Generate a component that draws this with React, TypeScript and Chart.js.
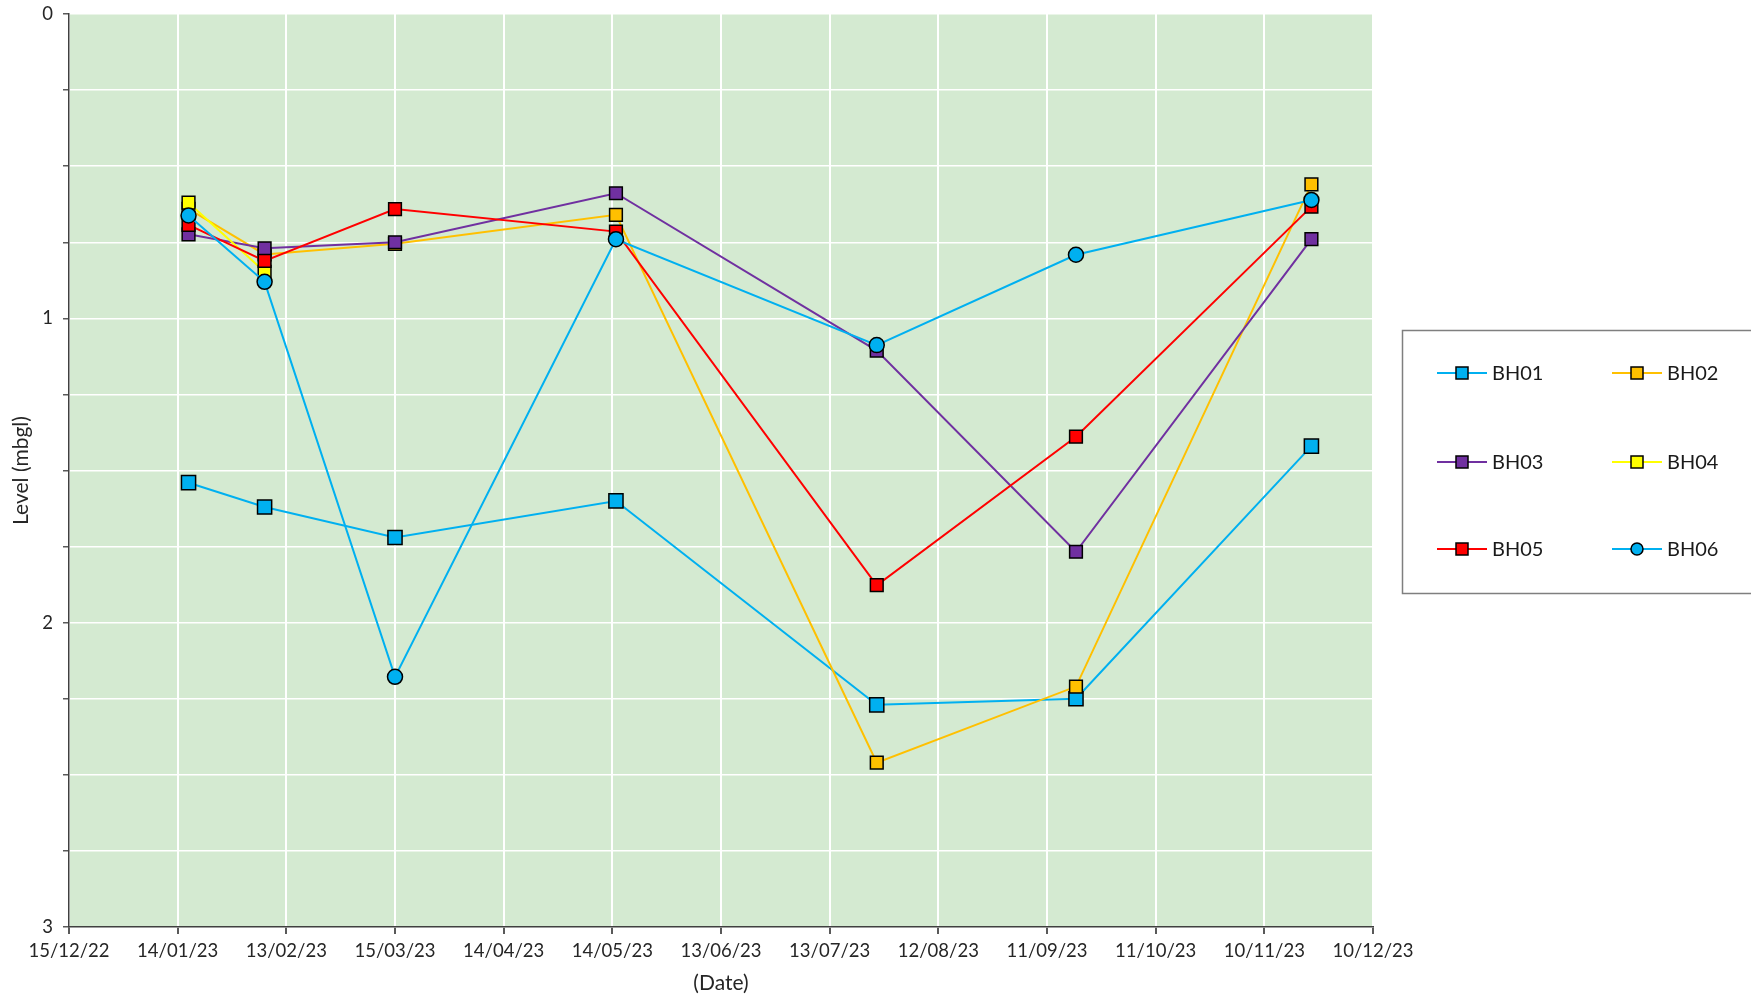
import React, { useEffect, useRef } from "react";
import { Chart, registerables } from "chart.js";

Chart.register(...registerables);

const START_DATE = "2022-12-15";
const sampleDates = ["2023-01-17", "2023-02-07", "2023-03-15", "2023-05-15", "2023-07-26", "2023-09-19", "2023-11-23"];
const seriesNames = ["BH01", "BH02", "BH03", "BH04", "BH05", "BH06"];
const bh01 = [1.54, 1.62, 1.72, 1.60, 2.27, 2.25, 1.42];
const bh02 = [0.64, 0.79, 0.755, 0.66, 2.46, 2.21, 0.56];
const bh03 = [0.724, 0.77, 0.75, 0.589, 1.106, 1.767, 0.74];
const bh04 = [0.62, 0.847, null, null, null, null, null];
const bh05 = [0.693, 0.811, 0.641, 0.715, 1.877, 1.389, 0.633];
const bh06 = [0.662, 0.88, 2.178, 0.74, 1.088, 0.791, 0.611];
const seriesValues = [bh01, bh02, bh03, bh04, bh05, bh06];
const seriesColors = ["#00B0F0", "#FFC000", "#7030A0", "#FFFF00", "#FF0000", "#00B0F0"];
const seriesMarkers = ["rect", "rect", "rect", "rect", "rect", "circle"];
const markerRadius = [10, 9, 9, 9, 9, 7.5];
const yTickLabels = [0, 1, 2, 3];

const DAY = 86400000;
const toDay = (s: string) => {
  const [y, m, d] = s.split("-").map(Number);
  const [y0, m0, d0] = START_DATE.split("-").map(Number);
  return Math.round((Date.UTC(y, m - 1, d) - Date.UTC(y0, m0 - 1, d0)) / DAY);
};
const fmtDay = (v: number) => {
  const [y0, m0, d0] = START_DATE.split("-").map(Number);
  const dt = new Date(Date.UTC(y0, m0 - 1, d0) + v * DAY);
  const dd = String(dt.getUTCDate()).padStart(2, "0");
  const mm = String(dt.getUTCMonth() + 1).padStart(2, "0");
  const yy = String(dt.getUTCFullYear() % 100).padStart(2, "0");
  return `${dd}/${mm}/${yy}`;
};

const FONT = "Lato, 'Noto Sans', sans-serif";

const legendPlugin = {
  id: "customLegend",
  afterDraw(chart: any) {
    const ctx = chart.ctx;
    ctx.save();
    ctx.strokeStyle = "#7f7f7f";
    ctx.lineWidth = 1.5;
    ctx.strokeRect(1402.5, 330.5, 400, 263);
    const colX = [1437, 1612];
    const rowY = [373, 462, 549];
    chart.data.datasets.forEach((ds: any, i: number) => {
      const x = colX[i % 2];
      const y = rowY[Math.floor(i / 2)];
      ctx.strokeStyle = ds.borderColor;
      ctx.lineWidth = 2;
      ctx.beginPath();
      ctx.moveTo(x, y);
      ctx.lineTo(x + 50, y);
      ctx.stroke();
      ctx.fillStyle = ds.pointBackgroundColor;
      ctx.strokeStyle = "#000";
      ctx.lineWidth = 1.5;
      if (ds.pointStyle === "circle") {
        ctx.beginPath();
        ctx.arc(x + 25, y, 6, 0, Math.PI * 2);
        ctx.fill();
        ctx.stroke();
      } else {
        ctx.fillRect(x + 19, y - 6, 12, 12);
        ctx.strokeRect(x + 19, y - 6, 12, 12);
      }
      ctx.fillStyle = "#1a1a1a";
      ctx.font = `20px ${FONT}`;
      ctx.textBaseline = "middle";
      ctx.textAlign = "left";
      ctx.fillText(ds.label, x + 55, y + 1);
    });
    ctx.restore();
  },
};

const bgPlugin = {
  id: "plotBg",
  beforeDraw(chart: any) {
    const { ctx, chartArea } = chart;
    ctx.save();
    ctx.fillStyle = "#D4EAD1";
    ctx.fillRect(chartArea.left, chartArea.top, chartArea.right - chartArea.left, chartArea.bottom - chartArea.top);
    ctx.restore();
  },
};

export default function App() {
  const ref = useRef<HTMLCanvasElement | null>(null);
  useEffect(() => {
    document.body.style.margin = "0";
    const xs = sampleDates.map(toDay);
    const datasets = seriesNames.map((name, i) => ({
      label: name,
      data: xs.map((x, j) => ({ x, y: seriesValues[i][j] })).filter((p) => p.y !== null),
      borderColor: seriesColors[i],
      backgroundColor: seriesColors[i],
      pointBackgroundColor: seriesColors[i],
      pointBorderColor: "#000",
      pointBorderWidth: 1.5,
      pointStyle: seriesMarkers[i],
      pointRadius: markerRadius[i],
      borderWidth: 2,
      tension: 0,
      order: 5 - i,
    }));
    const chart = new Chart(ref.current as HTMLCanvasElement, {
      type: "line",
      data: { datasets } as any,
      options: {
        animation: false,
        responsive: false,
        devicePixelRatio: 1,
        layout: { padding: { left: 0, top: 14, right: 378, bottom: 0 } },
        plugins: { legend: { display: false }, tooltip: { enabled: false } },
        scales: {
          x: {
            type: "linear",
            min: 0,
            max: 360,
            afterFit: (s: any) => { s.height = 73; s.paddingLeft = 0; s.paddingRight = 0; },
            ticks: {
              stepSize: 30,
              autoSkip: false,
              maxRotation: 0,
              padding: 6,
              color: "#262626",
              font: { family: FONT, size: 18.5 },
              callback: (v: any) => fmtDay(Number(v)),
            },
            grid: { color: "#ffffff", lineWidth: 2, tickColor: "#595959", tickLength: 7 },
            border: { color: "#404040", width: 1.5 },
            title: { display: true, text: "(Date)", color: "#262626", font: { family: FONT, size: 21 }, padding: { top: 0, bottom: 4 } },
          },
          y: {
            type: "linear",
            reverse: true,
            min: 0,
            max: 3,
            afterFit: (s: any) => { s.width = 69; s.paddingTop = 0; s.paddingBottom = 0; },
            ticks: {
              stepSize: 0.25,
              autoSkip: false,
              padding: 10,
              color: "#262626",
              font: { family: FONT, size: 18.5 },
              callback: (v: any) => (yTickLabels.includes(Number(v)) ? String(v) : ""),
            },
            grid: { color: "#ffffff", lineWidth: 1.5, tickColor: "#595959", tickLength: 6 },
            border: { color: "#404040", width: 1.5 },
            title: { display: true, text: "Level (mbgl)", color: "#262626", font: { family: FONT, size: 21 }, padding: { top: 9, bottom: 0 } },
          },
        },
      } as any,
      plugins: [bgPlugin, legendPlugin],
    });
    return () => chart.destroy();
  }, []);
  return (
    <div style={{ width: 1751, height: 1000 }}>
      <canvas ref={ref} width={1751} height={1000} style={{ display: "block" }} />
    </div>
  );
}
